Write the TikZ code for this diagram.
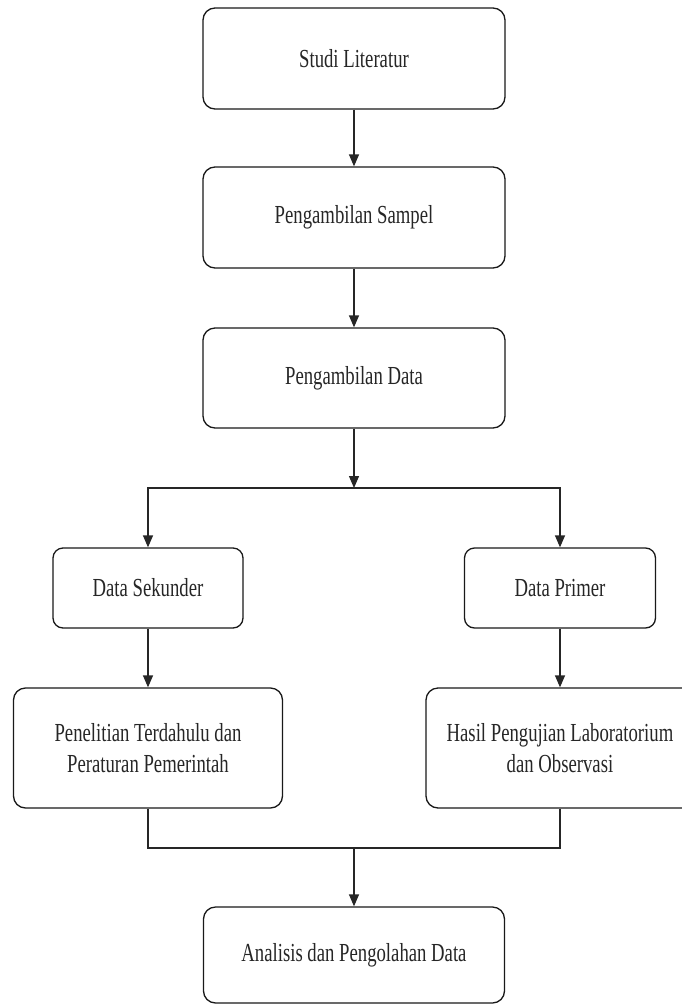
\documentclass[tikz,border=0pt]{standalone}
\usepackage{fontspec}
\setmainfont{Liberation Serif}[FakeStretch=0.72]
\usetikzlibrary{arrows.meta}
\tikzset{
  box/.style={draw=black!90, line width=1.3pt, rounded corners=12pt, align=center,
    inner sep=0pt, text=black!85, font=\fontsize{26}{31}\selectfont},
  conn/.style={draw=black!85, line width=1.3pt, -{Triangle[width=10pt,length=12pt]}},
  link/.style={draw=black!85, line width=1.3pt}
}
\begin{document}
\begin{tikzpicture}[x=1pt,y=-1pt]
\useasboundingbox (0,0) rectangle (682,1004);
\node[box, minimum width=302pt, minimum height=101pt] (b1) at (354,58.5) {Studi Literatur};
\node[box, minimum width=302pt, minimum height=101pt] (b2) at (354,217.5) {Pengambilan Sampel};
\node[box, minimum width=302pt, minimum height=100pt] (b3) at (354,378) {Pengambilan Data};
\node[box, rounded corners=10pt, minimum width=190pt, minimum height=80pt] (ds) at (148,588) {Data Sekunder};
\node[box, rounded corners=10pt, minimum width=191pt, minimum height=80pt] (dp) at (560,588) {Data Primer};
\node[box, minimum width=269pt, minimum height=120pt] (pen) at (148,748) {Penelitian Terdahulu dan\\Peraturan Pemerintah};
\node[box, minimum width=268pt, minimum height=120pt] (has) at (560,748) {Hasil Pengujian Laboratorium\\dan Observasi};
\node[box, minimum width=301pt, minimum height=96pt] (b8) at (354,955) {Analisis dan Pengolahan Data};
\coordinate (j1) at (354,488);
\coordinate (j2) at (354,848);
\draw[conn] (b1) -- (b2);
\draw[conn] (b2) -- (b3);
\draw[conn] (b3.south) -- (j1);
\draw[conn] (j1) -| (ds.north);
\draw[conn] (j1) -| (dp.north);
\draw[conn] (ds.south) -- (ds.south |- pen.north);
\draw[conn] (dp.south) -- (dp.south |- has.north);
\draw[link] (pen.south) |- (j2);
\draw[link] (has.south) |- (j2);
\draw[conn] (j2) -- (b8.north);
\end{tikzpicture}
\end{document}
